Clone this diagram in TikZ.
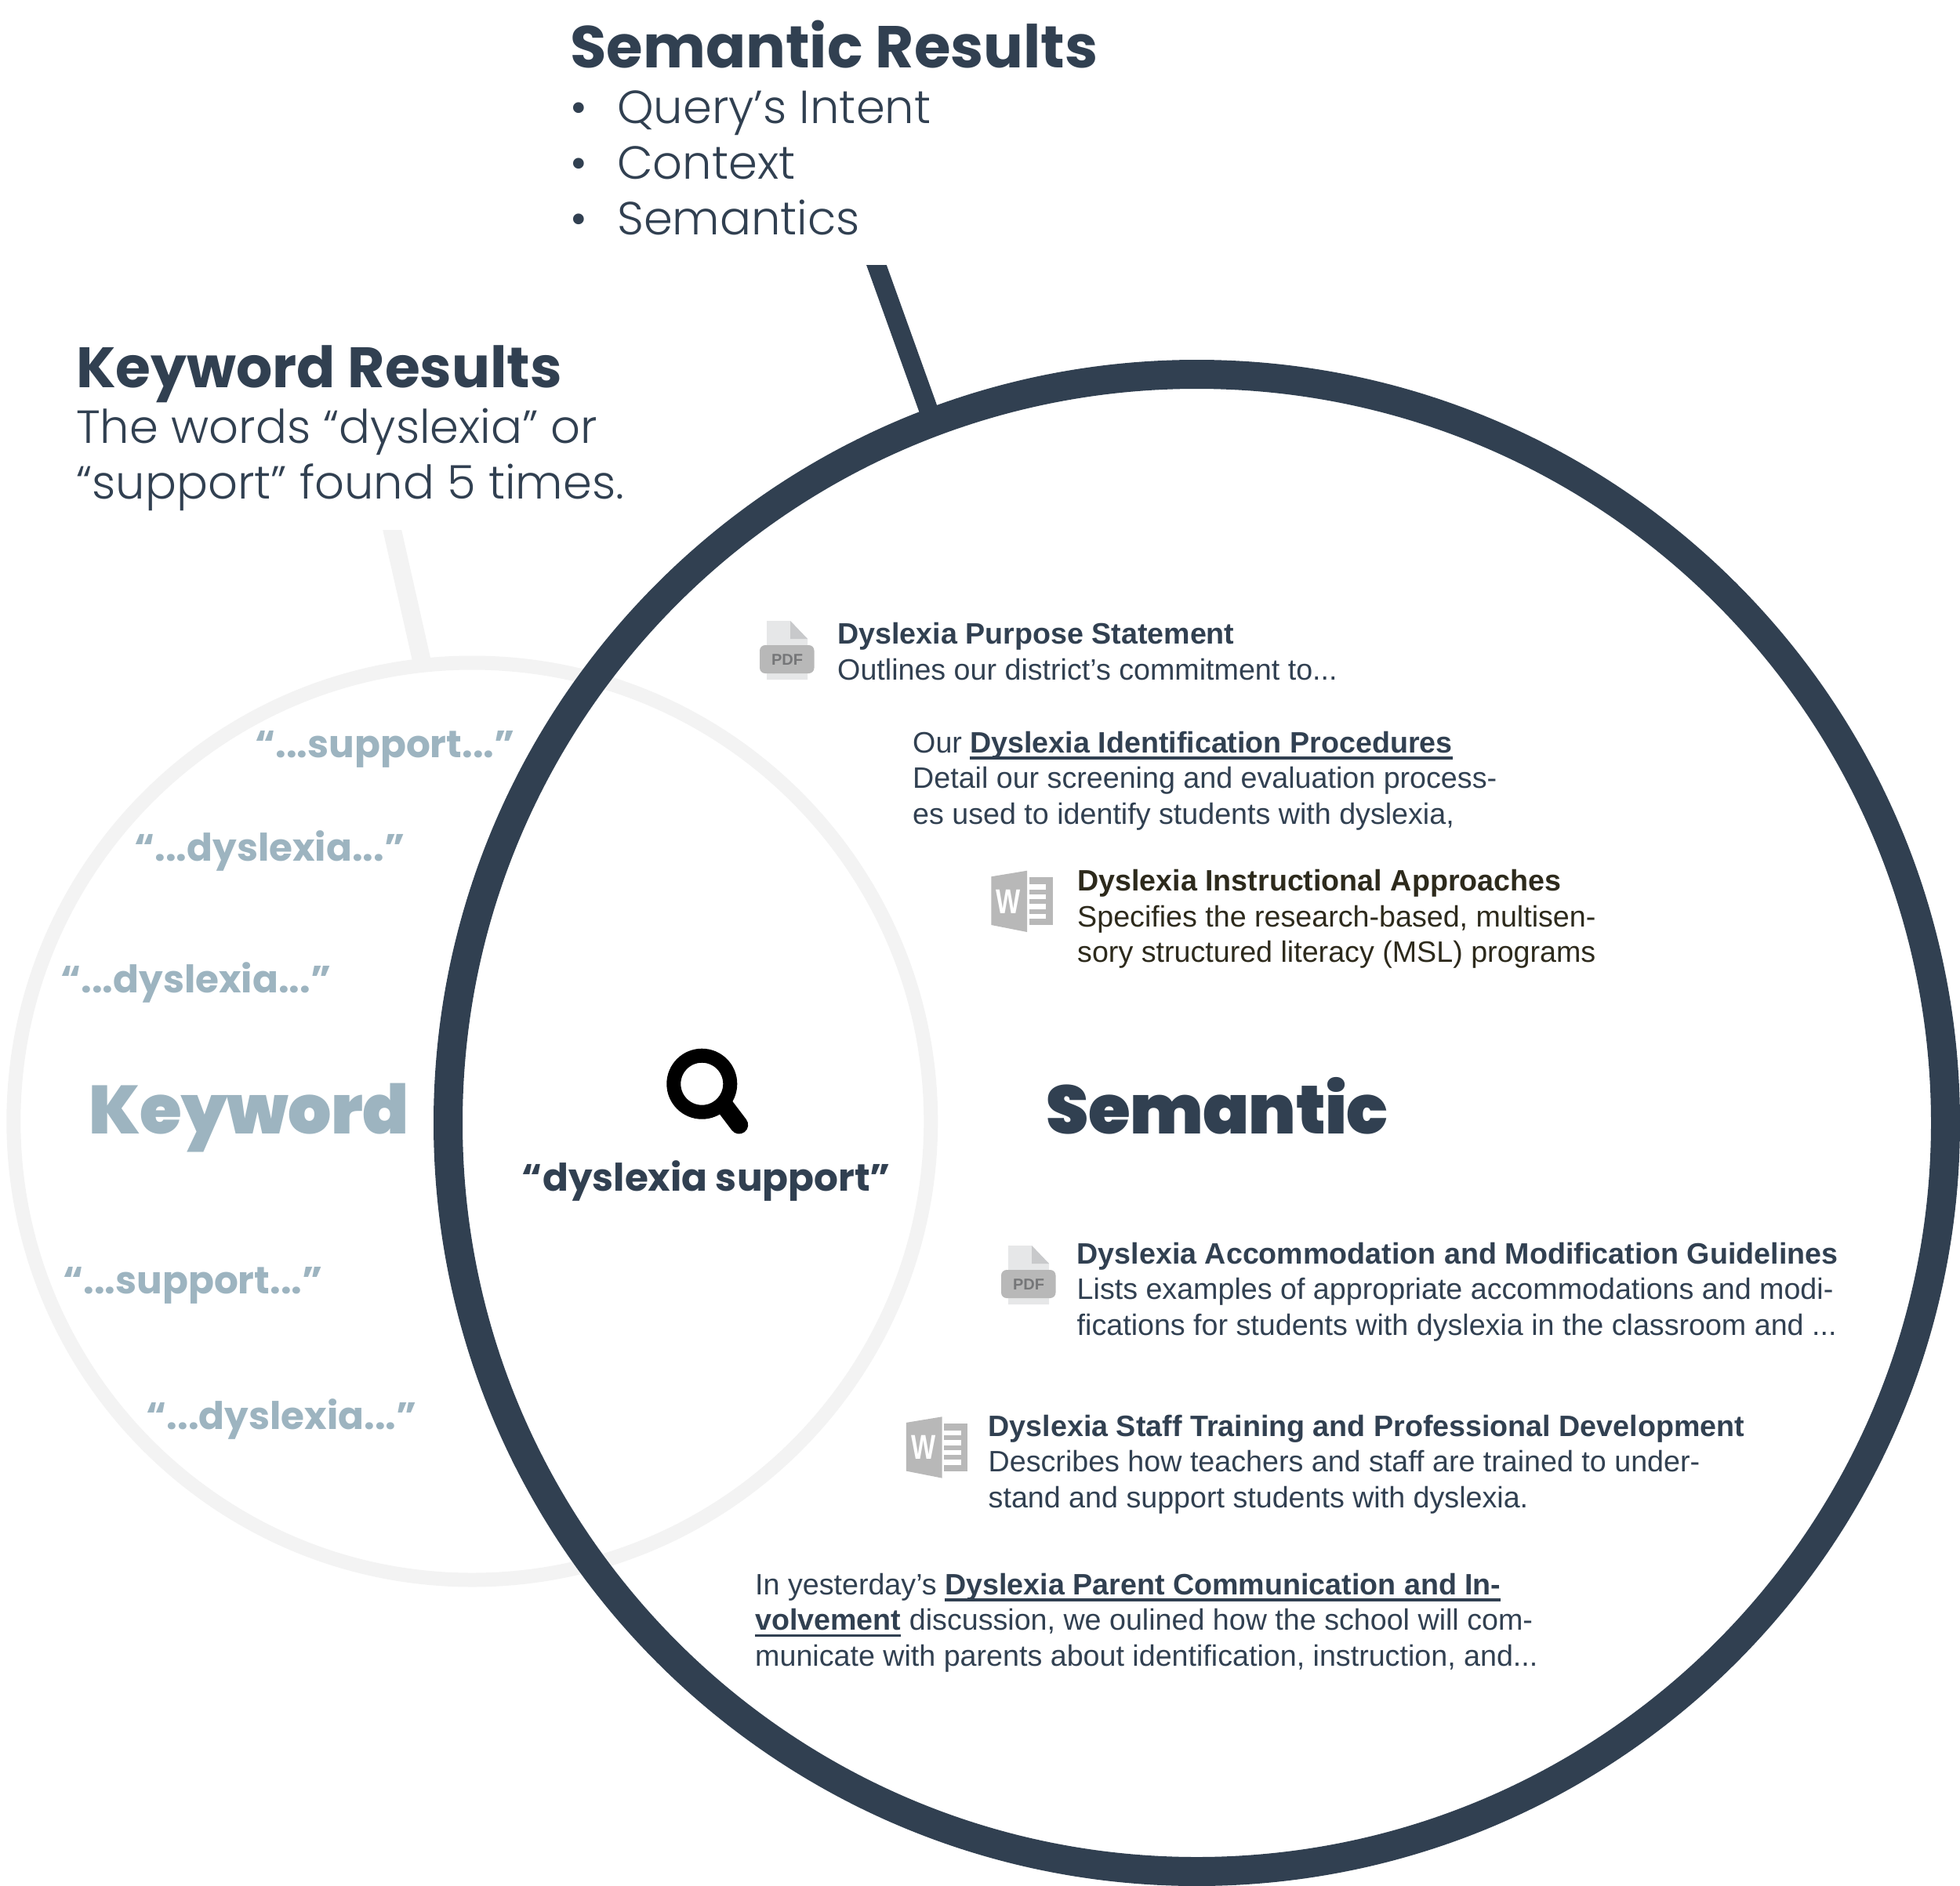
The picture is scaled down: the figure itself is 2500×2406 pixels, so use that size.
\documentclass[tikz,border=0pt]{standalone}
\usepackage{fontspec}
\setmainfont{Liberation Sans}
\newfontfamily\popbold{Poppins}[UprightFont=* Bold,BoldFont=* Bold]
\newfontfamily\popxbold{Poppins}[UprightFont=* Black,BoldFont=* Black,LetterSpace=-0.6]
\newfontfamily\poplight{Poppins}[UprightFont=* Light,BoldFont=* Light]
\definecolor{clDark}{HTML}{314051}
\definecolor{clMuted}{HTML}{9DB4C0}
\definecolor{clRing}{HTML}{F3F3F3}
\definecolor{clOlive}{HTML}{2D2A1C}
\definecolor{clIcon}{HTML}{B8B8B8}
\definecolor{clPage}{HTML}{E6E7E8}
\definecolor{clFold}{HTML}{C8C9CB}
\definecolor{clPdf}{HTML}{757678}
\newcommand{\linedtext}[1]{\leavevmode\setbox0\hbox{\textbf{#1}}\rlap{\rule[-8.5pt]{\wd0}{3.5pt}}\box0}
\tikzset{
  ring/.style={circle, draw, inner sep=0pt, outer sep=0pt},
  leader/.style={line cap=butt},
  heading/.style={anchor=base west, inner sep=0pt, text=clDark, font=\popbold\fontsize{75.5}{90}\selectfont},
  lighttext/.style={anchor=base west, inner sep=0pt, align=left, text=clDark, font=\poplight\fontsize{59.2}{71}\selectfont},
  bigword/.style={anchor=base west, inner sep=0pt, font=\popxbold\fontsize{87}{100}\selectfont},
  snippet/.style={anchor=base west, inner sep=0pt, text=clMuted, font=\popbold\fontsize{48.5}{60}\selectfont},
  result/.style={anchor=base west, inner sep=0pt, align=left, text=clDark, font=\fontsize{37.65}{45.4}\selectfont},
  pics/pdficon/.style={code={
    \fill[clPage] (978,792) -- (1008,792) -- (1030,815) -- (1030,867) -- (978,867) -- cycle;
    \fill[clFold] (1008,792) -- (1030,815) -- (1008,815) -- cycle;
    \fill[clIcon, rounded corners=7pt] (969,823) rectangle (1038.5,859);
    \node[inner sep=0pt, text=clPdf, font=\bfseries\fontsize{20}{20}\selectfont] at (1004,842) {PDF};
  }},
  pics/wordicon/.style={code={
    \fill[clIcon] (1264.3,1118.3) -- (1310,1110.7) -- (1310,1189) -- (1264.3,1180) -- cycle;
    \fill[clIcon] (1312.7,1119.3) rectangle (1342.7,1180);
    \foreach \y in {1128,1140.5,1153,1165.5} \fill[white] (1312.7,\y) rectangle (1334,\y+6.5);
    \node[inner sep=0pt, xscale=.75, text=white, font=\bfseries\fontsize{44}{44}\selectfont] at (1286,1150) {W};
  }},
}
\begin{document}
\begin{tikzpicture}[x=1pt, y=-1pt]
  \useasboundingbox (0,0) rectangle (2500,2406);
  % rings
  \node[ring, clRing, line width=18pt, minimum size=1170pt] (kwring) at (602.3,1430.5) {};
  \node[ring, clDark, line width=37pt, minimum size=1910pt] (semring) at (1526.5,1432.5) {};
  % leaders
  \coordinate (semtop) at (1113.6,326);
  \coordinate (kwtop) at (497.5,664);
  \coordinate (semfoot) at ([shift={(-336,-892.5)}]semring.center);
  \coordinate (kwfoot) at ([shift={(-62.8,-580.5)}]kwring.center);
  \begin{scope}
    \clip (0,338) rectangle (2500,2406);
    \draw[leader, clDark, line width=24.2pt] (semtop) -- (semfoot);
  \end{scope}
  \begin{scope}
    \clip (0,676) rectangle (1000,1000);
    \draw[leader, clRing, line width=23.4pt] (kwtop) -- (kwfoot);
  \end{scope}
  % semantic results
  \node[heading] (semhead) at (727,86) {Semantic Results};
  \node[lighttext] (semlist) at (727,299) {\makebox[60pt][l]{•}Query’s Intent\\\makebox[60pt][l]{•}Context\\\makebox[60pt][l]{•}Semantics};
  % keyword results
  \node[heading, font=\popbold\fontsize{72.7}{90}\selectfont] (kwhead) at (97,494) {Keyword Results};
  \node[lighttext] (kwbody) at (97,636) {The words “dyslexia” or\\“support” found 5 times.};
  % big labels
  \node[bigword, text=clMuted] (kwlabel) at (113,1446) {Keyword};
  \node[bigword, text=clDark] (semlabel) at (1334,1446) {Semantic};
  % snippets
  \node[snippet] (sn1) at (325,966) {“...support...”};
  \node[snippet] (sn2) at (171,1098) {“...dyslexia...”};
  \node[snippet] (sn3) at (77,1266) {“...dyslexia...”};
  \node[snippet] (sn4) at (80,1650) {“...support...”};
  \node[snippet] (sn5) at (186.5,1823) {“...dyslexia...”};
  % query
  \draw[black, line width=18pt] (895.3,1382.7) circle (36pt);
  \draw[black, line width=23pt, line cap=round] (925,1411.7) -- (942.7,1435);
  \node[anchor=base, inner sep=0pt, text=clDark, font=\popbold\fontsize{48.5}{60}\selectfont] (query) at (901,1519) {“dyslexia support”};
  % results
  \pic {pdficon};
  \pic[shift={(308,797)}] {pdficon};
  \pic {wordicon};
  \pic[shift={(-108.4,696.6)}] {wordicon};
  \node[result] (resa) at (1068,867) {\textbf{Dyslexia Purpose Statement}\\Outlines our district’s commitment to...};
  \node[result] (resb) at (1164,1051) {Our \linedtext{Dyslexia Identification Procedures}\\Detail our screening and evaluation process-\\es used to identify students with dyslexia,};
  \node[result, text=clOlive] (resc) at (1374,1227.5) {\textbf{Dyslexia Instructional Approaches}\\Specifies the research-based, multisen-\\sory structured literacy (MSL) programs};
  \node[result] (resd) at (1373.5,1703) {\textbf{Dyslexia Accommodation and Modification Guidelines}\\Lists examples of appropriate accommodations and modi-\\fications for students with dyslexia in the classroom and ...};
  \node[result] (rese) at (1260.5,1923) {\textbf{Dyslexia Staff Training and Professional Development}\\Describes how teachers and staff are trained to under-\\stand and support students with dyslexia.};
  \node[result] (resf) at (963,2125) {In yesterday’s \linedtext{Dyslexia Parent Communication and In-}\\\linedtext{volvement}{} discussion, we oulined how the school will com-\\municate with parents about identification, instruction, and...};
\end{tikzpicture}
\end{document}
